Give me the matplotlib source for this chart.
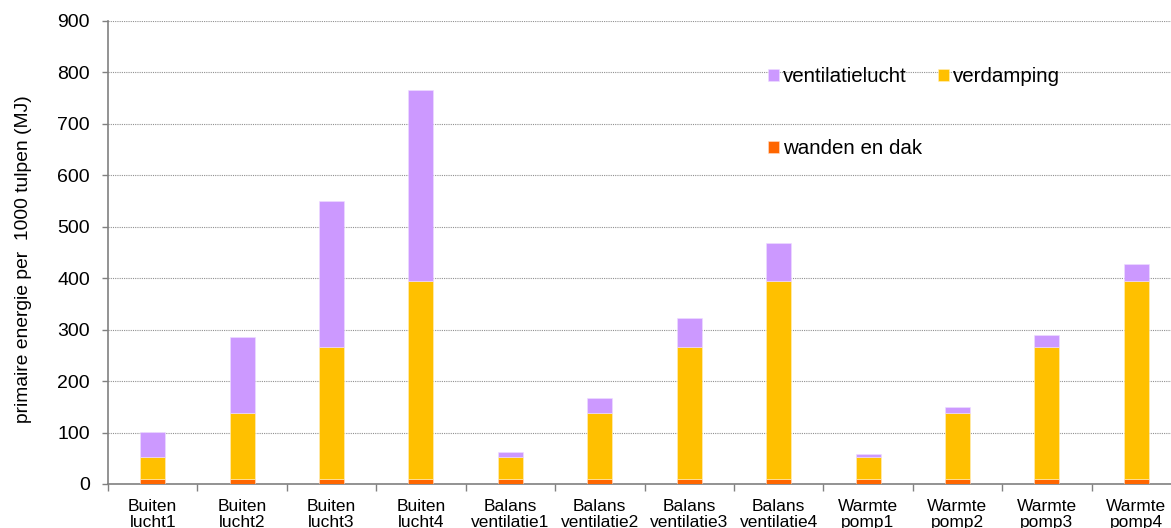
import matplotlib
matplotlib.use("Agg")
import matplotlib.pyplot as plt
import numpy as np

plt.rcParams['font.family'] = ['Liberation Sans', 'DejaVu Sans']

categories = ["Buiten\nlucht1", "Buiten\nlucht2", "Buiten\nlucht3", "Buiten\nlucht4",
              "Balans\nventilatie1", "Balans\nventilatie2", "Balans\nventilatie3", "Balans\nventilatie4",
              "Warmte\npomp1", "Warmte\npomp2", "Warmte\npomp3", "Warmte\npomp4"]
wanden_en_dak = [10, 10, 10, 10, 10, 10, 10, 10, 10, 10, 10, 10]
verdamping = [42, 128, 256, 385, 42, 128, 256, 385, 42, 128, 256, 385]
ventilatielucht = [50, 148, 284, 370, 10, 30, 57, 74, 6, 12, 23, 32]
yticks = [0, 100, 200, 300, 400, 500, 600, 700, 800, 900]

c_orange = "#FF6600"
c_yellow = "#FFC000"
c_purple = "#CC99FF"

fig = plt.figure(figsize=(11.71, 5.28), dpi=100)
ax = fig.add_axes([108/1171, 1-484/528, (1181-108)/1171, (484-21)/528])

x = np.arange(len(categories))
w = 0.28
b1 = ax.bar(x, wanden_en_dak, w, color=c_orange, edgecolor="#FFE0CC", linewidth=0.4, zorder=3, label="wanden en dak")
b2 = ax.bar(x, verdamping, w, bottom=wanden_en_dak, color=c_yellow, edgecolor="#FFF0C0", linewidth=0.4, zorder=3, label="verdamping")
bottom2 = np.array(wanden_en_dak) + np.array(verdamping)
b3 = ax.bar(x, ventilatielucht, w, bottom=bottom2, color=c_purple, edgecolor="#EEDDFF", linewidth=0.4, zorder=3, label="ventilatielucht")

ax.set_xlim(-0.5, len(categories) - 0.5)
ax.set_ylim(0, 900)
ax.set_yticks(yticks)
ax.set_yticklabels([str(v) for v in yticks], fontsize=14)
ax.yaxis.grid(True, linestyle=(0, (1, 1)), color="#909090", linewidth=0.8, zorder=0)
ax.set_axisbelow(True)

ax.set_xticks(np.arange(len(categories) + 1) - 0.5)
ax.set_xticklabels([])
ax.set_xticks(x, minor=True)
ax.set_xticklabels(categories, minor=True, fontsize=12.5, linespacing=1.1)
ax.tick_params(axis='x', which='minor', length=0, pad=11)
ax.tick_params(axis='x', which='major', length=5, color="#808080", width=1)
ax.tick_params(axis='y', length=4.3, color="#808080", width=1, pad=8.6)

for s in ["top", "right"]:
    ax.spines[s].set_visible(False)
for s in ["left", "bottom"]:
    ax.spines[s].set_color("#808080")
    ax.spines[s].set_linewidth(1.2)

ax.set_ylabel("primaire energie per  1000 tulpen (MJ)", fontsize=13.9, labelpad=18)
ax.yaxis.label.set_y((484-259)/463)

leg = fig.legend([b3, b1, b2], ["ventilatielucht", "wanden en dak", "verdamping"],
                 ncol=2, loc="upper left", bbox_to_anchor=(768/1171, 1-67/528),
                 bbox_transform=fig.transFigure, frameon=False, fontsize=14.8,
                 handlelength=0.55, handleheight=0.55, handletextpad=0.2,
                 labelspacing=2.6, columnspacing=0.75, borderpad=0, borderaxespad=0)

fig.savefig("out.png", dpi=100)
